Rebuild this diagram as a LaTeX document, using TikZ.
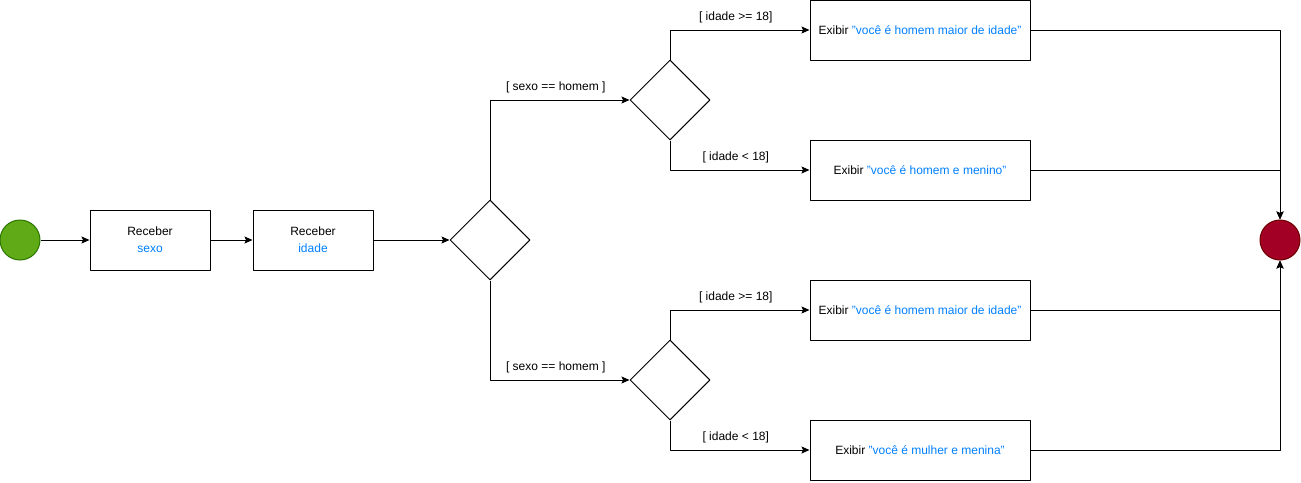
\documentclass[tikz,border=0pt]{standalone}
\usepackage{fontspec}
\setmainfont{Liberation Sans}
\usetikzlibrary{shapes.geometric,arrows.meta}
\definecolor{azul}{HTML}{007FFF}
\definecolor{verde}{HTML}{60A917}
\definecolor{verdeb}{HTML}{2D7600}
\definecolor{vermelho}{HTML}{A20025}
\definecolor{vermelhob}{HTML}{6F0000}
\begin{document}
\begin{tikzpicture}[x=1pt, y=-1pt, line width=1pt, line join=round, >={Stealth[length=8pt,width=7pt,inset=1.5pt]},
		caixa/.style={draw, minimum width=120pt, minimum height=60pt, inner sep=0pt, align=center, font=\fontsize{12}{17}\selectfont},
		exibir/.style={caixa, minimum width=220pt},
		decisao/.style={draw, diamond, minimum width=80pt, minimum height=80pt, inner sep=0pt},
		rotulo/.style={font=\fontsize{12}{14}\selectfont, yshift=13pt, xshift=-4pt, inner sep=1pt},
		inicio/.style={circle, draw=verdeb, fill=verde, minimum size=40pt, inner sep=0pt},
		fim/.style={circle, draw=vermelhob, fill=vermelho, minimum size=40pt, inner sep=0pt}]
			\useasboundingbox (0,0) rectangle (1301,482);
			\node[inicio] (ini) at (20,240) {};
			\node[caixa] (rsexo) at (150,240) {Receber\\\textcolor{azul}{sexo}};
			\node[caixa] (ridade) at (313,240) {Receber\\\textcolor{azul}{idade}};
			\node[decisao] (dsexo) at (490,240) {};
			\node[decisao] (dh) at (670,100) {};
			\node[decisao] (dm) at (670,380) {};
			\node[exibir] (e1) at (920,30) {Exibir \textcolor{azul}{"você é homem maior de idade"}};
			\node[exibir] (e2) at (920,170) {Exibir \textcolor{azul}{"você é homem e menino"}};
			\node[exibir] (e3) at (920,310) {Exibir \textcolor{azul}{"você é homem maior de idade"}};
			\node[exibir] (e4) at (920,450) {Exibir \textcolor{azul}{"você é mulher e menina"}};
			\node[fim] (fim) at (1280,240) {};
			\draw[->] (ini) -- (rsexo);
			\draw[->] (rsexo) -- (ridade);
			\draw[->] (ridade) -- (dsexo);
			\draw[->] (dsexo.north) |- (dh.west) node[rotulo, pos=0.75] {[ sexo == homem ]};
			\draw[->] (dsexo.south) |- (dm.west) node[rotulo, pos=0.75] {[ sexo == homem ]};
			\foreach \d/\a/\b in {dh/e1/e2, dm/e3/e4} {
				\draw[->] (\d.north) |- (\a.west) node[rotulo, pos=0.75] {[ idade >= 18]};
				\draw[->] (\d.south) |- (\b.west) node[rotulo, pos=0.75] {[ idade < 18]};
			}
			\foreach \e in {e1,e2} \draw[->] (\e.east) -| (fim.north);
			\foreach \e in {e3,e4} \draw[->] (\e.east) -| (fim.south);
		\end{tikzpicture}
\end{document}
